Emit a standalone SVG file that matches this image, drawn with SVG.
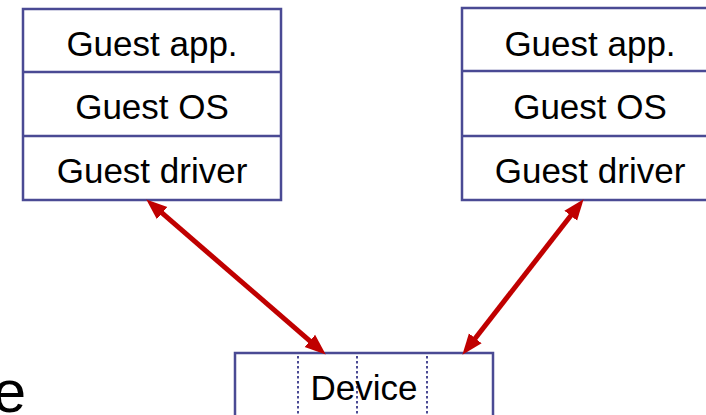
<svg xmlns="http://www.w3.org/2000/svg" width="706" height="415" viewBox="0 0 706 415">
<defs>
<style>
.box{fill:#fff;stroke:#4a4a94;stroke-width:2.5}
.div{stroke:#4a4a94;stroke-width:2.5}
.dot{stroke:#4a4a94;stroke-width:2;stroke-dasharray:2.5 2.5}
.t{font-family:"Liberation Sans",Arial,sans-serif;font-size:35px;fill:#000;text-anchor:middle}
.con{stroke:#c00000;stroke-width:5;fill:none;marker-start:url(#ah);marker-end:url(#ah)}
</style>
<marker id="ah" markerUnits="userSpaceOnUse" markerWidth="22" markerHeight="18" refX="6" refY="9" orient="auto-start-reverse" viewBox="0 0 22 18">
<path d="M0,1 L21,9 L0,17 z" fill="#c00000"/>
</marker>
</defs>
<rect width="706" height="415" fill="#fff"/>
<text x="26" y="412" font-family="Liberation Sans,Arial,sans-serif" font-size="60" text-anchor="end">e</text>
<g id="guest1">
<rect class="box" x="23" y="9" width="258" height="191"/>
<line class="div" x1="23" y1="72" x2="281" y2="72"/>
<line class="div" x1="23" y1="136" x2="281" y2="136"/>
<text class="t" x="152" y="56">Guest app.</text>
<text class="t" x="152" y="119">Guest OS</text>
<text class="t" x="152" y="183">Guest driver</text>
</g>
<g id="guest2">
<rect class="box" x="462" y="8" width="256" height="192"/>
<line class="div" x1="462" y1="71" x2="718" y2="71"/>
<line class="div" x1="462" y1="136" x2="718" y2="136"/>
<text class="t" x="590" y="56">Guest app.</text>
<text class="t" x="590" y="119">Guest OS</text>
<text class="t" x="590" y="183">Guest driver</text>
</g>
<g id="device">
<rect class="box" x="235" y="353" width="258" height="80"/>
<line class="dot" x1="298" y1="356" x2="298" y2="415"/>
<line class="dot" x1="357" y1="356" x2="357" y2="415"/>
<line class="dot" x1="427" y1="356" x2="427" y2="415"/>
<text class="t" x="364" y="400">Device</text>
</g>
<g id="connectors">
<path class="con" d="M157.6,209.2 L314.4,344.8"/>
<path class="con" d="M574.4,211 L471.6,343"/>
</g>
</svg>
